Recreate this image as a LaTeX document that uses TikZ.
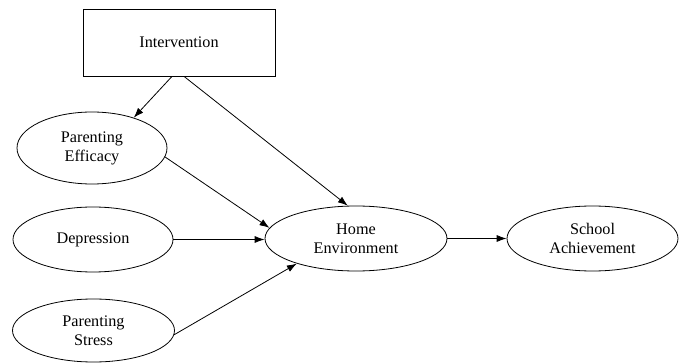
\documentclass[tikz,border=0pt]{standalone}
\usepackage{fontspec}
\setmainfont{Liberation Serif}
\usetikzlibrary{shapes.geometric,arrows.meta}

\tikzset{
  oval/.style={draw, ellipse, inner sep=0pt, align=center, line width=0.8pt},
  link/.style={draw, line width=0.8pt, -{Latex[length=10pt,width=7pt]}}
}

\begin{document}
\begin{tikzpicture}[x=1pt,y=1pt,yscale=-1,xscale=1,font=\fontsize{16.2}{19}\selectfont]
\useasboundingbox (0,0) rectangle (682,363);

% Box
\node [draw, rectangle, minimum width=192, minimum height=67, line width=0.8pt] (int) at (179,42.5) {Intervention};
% Ovals left
\node [oval, minimum width=150, minimum height=72] (eff) at (92,148) {Parenting\\Efficacy};
\node [oval, minimum width=160, minimum height=65] (dep) at (93,239.5) {Depression};
\node [oval, minimum width=162, minimum height=63] (str) at (93.5,330.5) {Parenting\\Stress};
% Ovals right
\node [oval, minimum width=182, minimum height=65] (home) at (356,238.5) {Home\\Environment};
\node [oval, minimum width=171, minimum height=65] (sch) at (592.5,238.5) {School\\Achievement};

% Connections
\draw [link] ([xshift=-7]int.south) -- (eff.36);
\draw [link] ([xshift=5]int.south) -- (home.104);
\draw [link] (eff.-7) -- (home.173);
\draw [link] (dep.east) -- (dep.east -| home.west);
\draw [link] (str.-3) -- (home.203);
\draw [link] (home.east) -- (sch.west);

\end{tikzpicture}
\end{document}
